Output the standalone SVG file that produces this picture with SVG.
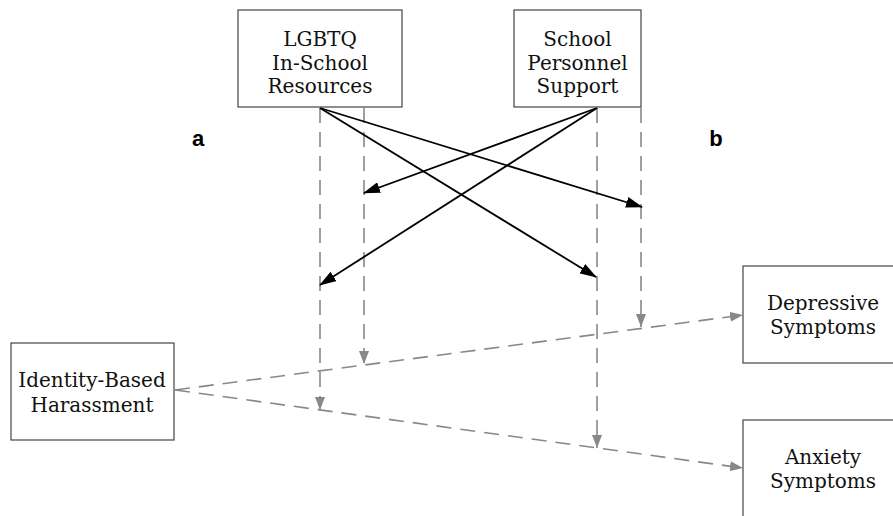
<svg xmlns="http://www.w3.org/2000/svg" width="893" height="516" viewBox="0 0 893 516">
<style>
.box{fill:#fff;stroke:#444;stroke-width:1.2}
.t{font-family:"DejaVu Serif","Liberation Serif",serif;font-size:20px;fill:#111;text-anchor:middle}
.lab{font-family:"Liberation Sans",Arial,sans-serif;font-size:22px;font-weight:bold;fill:#000;text-anchor:middle}
.solid{stroke:#000;stroke-width:1.8;fill:none}
.dash{stroke:#888;stroke-width:1.6;fill:none;stroke-dasharray:15 9}
</style>
<defs>
<marker id="ab" markerWidth="17" markerHeight="11" refX="16" refY="5.5" orient="auto" markerUnits="userSpaceOnUse">
<path d="M0,0 L17,5.5 L0,11 Z" fill="#000"/>
</marker>
<marker id="ag" markerWidth="13" markerHeight="10" refX="13" refY="5" orient="auto" markerUnits="userSpaceOnUse">
<path d="M0,0 L13,5 L0,10 Z" fill="#888"/>
</marker>
</defs>
<rect width="893" height="516" fill="#fff"/>
<g id="connectors">
<line class="dash" x1="320" y1="108" x2="320" y2="410" marker-end="url(#ag)"/>
<line class="dash" x1="364" y1="108" x2="364" y2="364" marker-end="url(#ag)"/>
<line class="dash" x1="597" y1="108" x2="597" y2="448" marker-end="url(#ag)"/>
<line class="dash" x1="641" y1="108" x2="641" y2="327" marker-end="url(#ag)"/>
<line class="dash" x1="175" y1="390" x2="743" y2="315" marker-end="url(#ag)"/>
<line class="dash" x1="175" y1="390" x2="743" y2="468" marker-end="url(#ag)"/>
<line class="solid" x1="320" y1="108" x2="642" y2="207" marker-end="url(#ab)"/>
<line class="solid" x1="320" y1="108" x2="596" y2="277" marker-end="url(#ab)"/>
<line class="solid" x1="597" y1="108" x2="364" y2="193" marker-end="url(#ab)"/>
<line class="solid" x1="597" y1="108" x2="320" y2="285" marker-end="url(#ab)"/>
</g>
<g id="lgbtq">
<rect class="box" x="238" y="10" width="164" height="97"/>
<text class="t" x="320" y="46">LGBTQ</text>
<text class="t" x="320" y="69.5">In-School</text>
<text class="t" x="320" y="93">Resources</text>
</g>
<g id="personnel">
<rect class="box" x="514" y="10" width="127" height="97"/>
<text class="t" x="577.5" y="46">School</text>
<text class="t" x="577.5" y="69.5">Personnel</text>
<text class="t" x="577.5" y="93">Support</text>
</g>
<g id="harassment">
<rect class="box" x="11" y="343" width="163" height="97"/>
<text class="t" x="92" y="387">Identity-Based</text>
<text class="t" x="92" y="411.5">Harassment</text>
</g>
<g id="depressive">
<rect class="box" x="743" y="266" width="170" height="97"/>
<text class="t" x="823" y="310">Depressive</text>
<text class="t" x="823" y="334">Symptoms</text>
</g>
<g id="anxiety">
<rect class="box" x="743" y="420" width="170" height="110"/>
<text class="t" x="823" y="464">Anxiety</text>
<text class="t" x="823" y="488">Symptoms</text>
</g>
<g id="labels">
<text class="lab" x="198" y="146">a</text>
<text class="lab" x="716" y="146">b</text>
</g>
</svg>
